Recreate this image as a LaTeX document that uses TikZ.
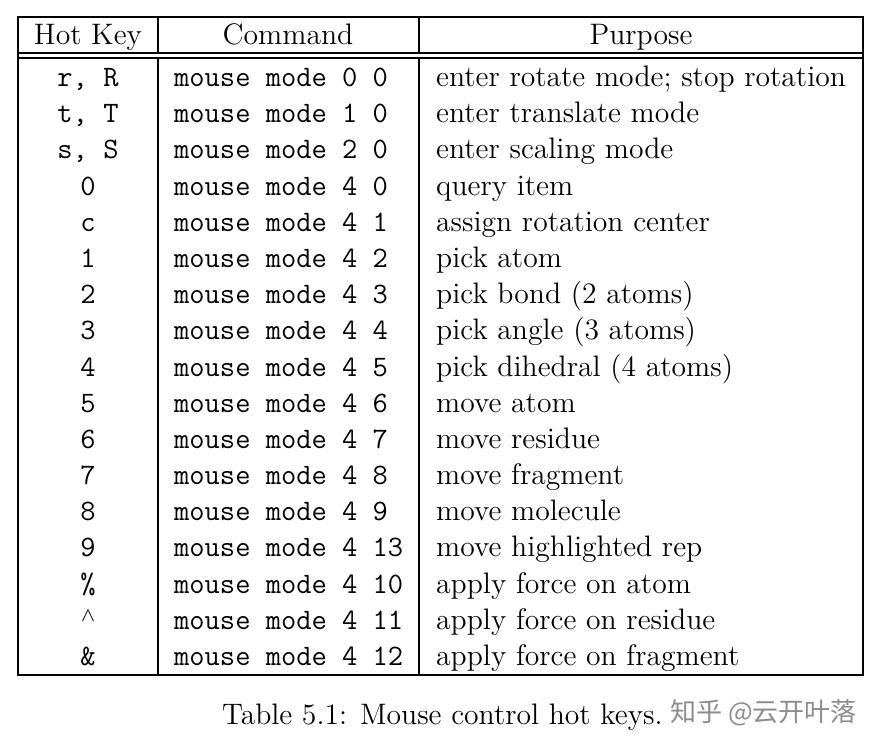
\documentclass[tikz,border=0pt]{standalone}
\usepackage{graphicx}
\usepackage{fontspec}
\newfontfamily\cjk{Noto Sans CJK SC}
\newcommand{\bg}[1]{\scalebox{2.47}{\fontsize{12}{14}\selectfont #1}}
\newcommand{\bgt}[1]{\scalebox{2.47}{\fontsize{12}{14}\selectfont\ttfamily #1}}
\begin{document}
\begin{tikzpicture}[x=1pt,y=-1pt,
  txt/.style={inner sep=0pt,anchor=base},
  tl/.style={txt,anchor=base west},
  rule/.style={line width=2pt},
  vrule/.style={line width=1.6pt}]
\useasboundingbox (0,0) rectangle (879,745);
\draw[rule] (18,17) rectangle (863,675);
\draw[rule] (18,53) -- (863,53);
\draw[rule] (18,58) -- (863,58);
\draw[vrule] (158,17) -- (158,53) (158,58) -- (158,675);
\draw[vrule] (419,17) -- (419,53) (419,58) -- (419,675);
\node[txt] (h1) at (88,44) {\bg{Hot Key}};
\node[txt] (h2) at (288,44) {\bg{Command}};
\node[txt] (h3) at (641,44) {\bg{Purpose}};
\foreach \k/\c/\p [count=\i from 0] in {
 {r, R}/{0 0}/{enter rotate mode; stop rotation},
 {t, T}/{1 0}/{enter translate mode},
 {s, S}/{2 0}/{enter scaling mode},
 0/{4 0}/{query item},
 c/{4 1}/{assign rotation center},
 1/{4 2}/{pick atom},
 2/{4 3}/{pick bond (2 atoms)},
 3/{4 4}/{pick angle (3 atoms)},
 4/{4 5}/{pick dihedral (4 atoms)},
 5/{4 6}/{move atom},
 6/{4 7}/{move residue},
 7/{4 8}/{move fragment},
 8/{4 9}/{move molecule},
 9/{4 13}/{move highlighted rep},
 \%/{4 10}/{apply force on atom},
 {\raisebox{0.6ex}{$\scriptstyle\wedge$}}/{4 11}/{apply force on residue},
 \&/{4 12}/{apply force on fragment}} {
  \node[txt] (k\i) at (88,86.5+36.19*\i) {\bgt{\k}};
  \node[tl] (c\i) at (174,86.5+36.19*\i) {\bgt{mouse mode \c}};
  \node[tl] (p\i) at (436,86.5+36.19*\i) {\bg{\p}};
}
\node[tl] (cap) at (222,724) {\bg{Table 5.1: Mouse control hot keys.}};
\node[tl,font=\fontsize{26}{28}\selectfont\cjk,text=black!45] (wm) at (670,721) {知乎 @云开叶落};
\end{tikzpicture}
\end{document}
